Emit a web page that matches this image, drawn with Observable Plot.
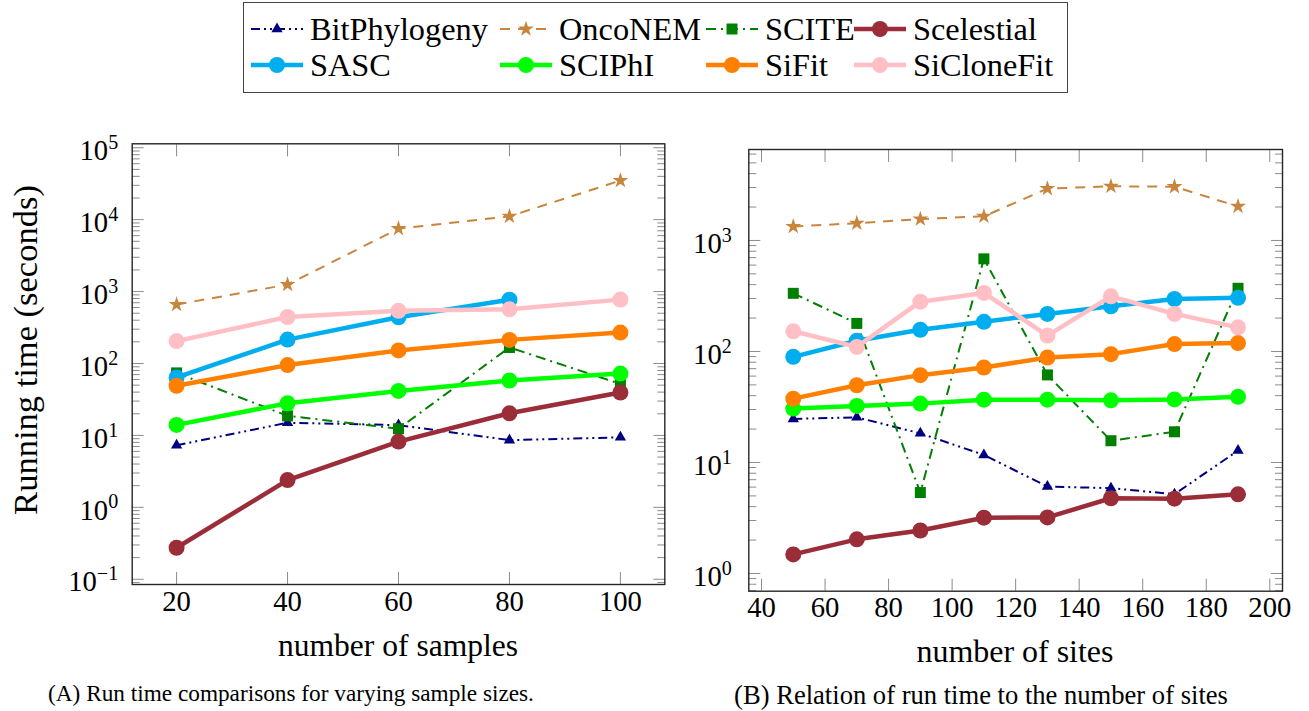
<!DOCTYPE html>
<html><head><meta charset="utf-8">
<script src="https://cdn.jsdelivr.net/npm/d3@7"></script>
<script src="https://cdn.jsdelivr.net/npm/@observablehq/plot@0.6"></script>
<style>
html,body{margin:0;padding:0;background:#fff;}
#stage{position:relative;width:1309px;height:711px;overflow:hidden;color:#000;font-family:"Liberation Serif","DejaVu Serif",serif;}
.abs{position:absolute;white-space:nowrap;line-height:1;}
#legend{position:absolute;left:243px;top:2px;width:823px;height:89px;border:1.4px solid #444;box-sizing:content-box;}
.lg{position:absolute;display:flex;align-items:center;white-space:nowrap;line-height:1;}
.lg svg{margin-right:7px;overflow:visible;flex:none;}
.cap{transform:translateX(-50%);}
.xl{transform:translateX(-50%);}
.yl{transform:translate(-50%,-50%) rotate(-90deg);}
</style></head><body><div id="stage"><div id="legend"></div></div>
<script>
// ---------- data ----------
const methods = ["BitPhylogeny", "OncoNEM", "SCITE", "Scelestial", "SASC", "SCIPhI", "SiFit", "SiCloneFit"];

// Panel A: running time (s) vs number of samples
const samples = [20, 40, 60, 80, 100];
const bitPhylogenyA = [7.3, 15, 13.9, 8.6, 9.4];
const oncoNEMA = [660, 1250, 7500, 11100, 35000];
const sciteA = [74, 18.7, 12.4, 167, 52];
const scelestialA = [0.274, 2.39, 8.2, 20.3, 39.5];
const sascA = [64, 215, 440, 770, null];
const sciphiA = [14.0, 28, 41.5, 58, 72.5];
const sifitA = [49, 95, 152, 213, 269];
const siCloneFitA = [205, 443, 540, 567, 773];

// Panel B: running time (s) vs number of sites
const sites = [50, 70, 90, 110, 130, 150, 170, 190];
const bitPhylogenyB = [24.7, 25.5, 18.3, 11.7, 6.07, 5.87, 5.18, 12.8];
const oncoNEMB = [1337, 1430, 1560, 1650, 2930, 3075, 3050, 2027];
const sciteB = [334, 179, 5.36, 683, 61.5, 15.7, 18.9, 371];
const scelestialB = [1.486, 2.03, 2.44, 3.18, 3.2, 4.76, 4.72, 5.17];
const sascB = [89.5, 125, 157, 185, 218, 255, 297, 304];
const sciphiB = [30.6, 32.3, 33.9, 36.8, 36.8, 36.3, 37, 39];
const sifitB = [37.6, 49.6, 61.2, 71.7, 88.3, 94.6, 116.6, 119];
const siCloneFitB = [152, 110, 281, 337, 139, 314, 218, 165];

// tick values
const samplesTicks = [20, 40, 60, 80, 100];
const sitesTicks = [40, 60, 80, 100, 120, 140, 160, 180, 200];
const yTicksA = [1e-1, 1e0, 1e1, 1e2, 1e3, 1e4, 1e5];
const yTicksB = [1e0, 1e1, 1e2, 1e3];

// texts
const xLabelA = "number of samples";
const xLabelB = "number of sites";
const yLabelA = "Running time (seconds)";
const captionA = "(A) Run time comparisons for varying sample sizes.";
const captionB = "(B) Relation of run time to the number of sites";

// ---------- styles ----------
const FONT = '"Liberation Serif", "DejaVu Serif", serif';
const colors = ["#00007f", "#c7853d", "#007f00", "#9b2d38", "#00aeef", "#00ff00", "#ff8000", "#ffbfc4"];
const dashes = ["9,4,2,4,2,4", "10,8", "10,5,2,5", null, null, null, null, null];
const symbols = ["triangle", "star", "square", "circle", "circle", "circle", "circle", "circle"];
const widths = [2, 2, 2, 4.5, 4.5, 4.5, 4.5, 4.5];
const radii = [4.2, 5, 6.2, 8, 8, 8, 8, 8];

const stage = document.getElementById("stage");
function measure(text) {
  const s = document.createElement("span");
  s.style.cssText = `position:absolute;visibility:hidden;white-space:nowrap;font-size:100px;font-family:${FONT}`;
  s.textContent = text;
  stage.appendChild(s);
  const w = s.getBoundingClientRect().width;
  s.remove();
  return w;
}
// font size that makes `text` about `target` px wide
function fitSize(text, target) { return 100 * target / measure(text); }
const tickFont = fitSize("100", 43);
const supFont = tickFont * 0.7;

function rows(xs, series) {
  return series.flatMap((vals, i) => vals.map((v, j) => ({method: methods[i], x: xs[j], y: v})).filter(d => d.y != null));
}
const dataA = rows(samples, [bitPhylogenyA, oncoNEMA, sciteA, scelestialA, sascA, sciphiA, sifitA, siCloneFitA]);
const dataB = rows(sites, [bitPhylogenyB, oncoNEMB, sciteB, scelestialB, sascB, sciphiB, sifitB, siCloneFitB]);

// pgfplots-like 10% enlargement of limits
function enlargeLin(vals) { const [a, b] = d3.extent(vals); const e = (b - a) * 0.1; return [a - e, b + e]; }
function enlargeLog(vals) { const [a, b] = d3.extent(vals).map(Math.log10); const e = (b - a) * 0.1; return [10 ** (a - e), 10 ** (b + e)]; }
function minorTicks([lo, hi]) {
  const out = [];
  for (let k = Math.floor(Math.log10(lo)) - 1; k <= Math.ceil(Math.log10(hi)); k++)
    for (let m = 2; m <= 9; m++) { const v = m * 10 ** k; if (v >= lo && v <= hi) out.push(v); }
  return out;
}

function seriesMarks(data) {
  return methods.flatMap((m, i) => {
    const d = data.filter(r => r.method === m);
    const lineOpts = {x: "x", y: "y", stroke: colors[i], strokeWidth: widths[i], strokeLinejoin: "round", strokeLinecap: dashes[i] ? "butt" : "round"};
    if (dashes[i]) lineOpts.strokeDasharray = dashes[i];
    return [
      Plot.line(d, lineOpts),
      Plot.dot(d, {x: "x", y: "y", symbol: symbols[i], r: radii[i], fill: colors[i], stroke: "none"})
    ];
  });
}

const tickStroke = "#8c8c8c";
function chart({data, xTicks, yTicks, width, margins, xPad, yPad}) {
  const xDomain = enlargeLin(data.map(d => d.x));
  const yDomain = enlargeLog(data.map(d => d.y));
  const minors = minorTicks(yDomain);
  const marks = [
    Plot.axisX({ticks: xTicks, anchor: "bottom", tickSize: -12, tickFormat: () => "", stroke: tickStroke, label: null}),
    Plot.axisX({ticks: xTicks, anchor: "top", tickSize: -12, tickFormat: () => "", stroke: tickStroke, label: null}),
    Plot.axisY({ticks: yTicks, anchor: "left", tickSize: -12, tickFormat: () => "", stroke: tickStroke, label: null}),
    Plot.axisY({ticks: yTicks, anchor: "right", tickSize: -12, tickFormat: () => "", stroke: tickStroke, label: null}),
    Plot.axisY({ticks: minors, anchor: "left", tickSize: -8, tickFormat: () => "", stroke: tickStroke, label: null}),
    Plot.axisY({ticks: minors, anchor: "right", tickSize: -8, tickFormat: () => "", stroke: tickStroke, label: null}),
    Plot.axisX({ticks: xTicks, anchor: "bottom", tickSize: 0, tickPadding: xPad, fontSize: tickFont, tickFormat: d3.format("d"), label: null}),
    Plot.axisY({ticks: yTicks, anchor: "left", tickSize: 0, tickPadding: yPad, fontSize: tickFont, dy: 3,
      tickFormat: d => "10^" + Math.round(Math.log10(d)), label: null}),
    ...seriesMarks(data),
    Plot.frame({stroke: "#262626", strokeWidth: 1.4})
  ];
  const svg = Plot.plot({
    width, height: 711,
    marginLeft: margins[0], marginRight: margins[1], marginTop: margins[2], marginBottom: margins[3],
    x: {domain: xDomain},
    y: {type: "log", domain: yDomain},
    style: {fontFamily: FONT, fontSize: tickFont + "px", background: "transparent", overflow: "visible", color: "#000"},
    marks
  });
  // render "10^k" tick labels with a real superscript
  svg.querySelectorAll("text").forEach(t => {
    const s = t.textContent;
    if (!/^10\^-?\d+$/.test(s)) return;
    const [base, exp] = s.split("^");
    t.textContent = "";
    const ns = "http://www.w3.org/2000/svg";
    const a = document.createElementNS(ns, "tspan"); a.textContent = base;
    const b = document.createElementNS(ns, "tspan"); b.textContent = exp.replace("-", "\u2212");
    b.setAttribute("dy", -supFont * 0.55); b.setAttribute("font-size", supFont);
    t.append(a, b);
  });
  return svg;
}

function place(el, left, top) { el.style.position = "absolute"; el.style.left = left + "px"; el.style.top = top + "px"; stage.appendChild(el); }
function textDiv(cls, text, target) {
  const d = document.createElement("div"); d.className = "abs " + cls; d.textContent = text;
  d.style.fontSize = fitSize(text, target) + "px";
  return d;
}

const svgA = chart({data: dataA, xTicks: samplesTicks, yTicks: yTicksA, width: 670, margins: [131.7, 5.7, 143.3, 127], xPad: 6, yPad: 14});
place(svgA, 0, 0);
const svgB = chart({data: dataB, xTicks: sitesTicks, yTicks: yTicksB, width: 639, margins: [78.3, 27, 149, 120.3], xPad: 5, yPad: 17});
place(svgB, 670, 0);

// axis labels & captions
place(textDiv("xl", xLabelA, 240), 398, 630);
place(textDiv("xl", xLabelB, 197), 1015, 636);
place(textDiv("yl", yLabelA, 330), 25, 350);
place(textDiv("cap", captionA, 486), 291, 682);
place(textDiv("cap", captionB, 494), 981, 682);

// legend
const legend = document.getElementById("legend");
const legendFont = fitSize("BitPhylogeny", 178);
const colX = [7, 256, 462, 610];
const rowY = [10, 46];
const symMap = {triangle: d3.symbolTriangle, star: d3.symbolStar, square: d3.symbolSquare, circle: d3.symbolCircle};
methods.forEach((m, i) => {
  const item = document.createElement("div");
  item.className = "lg";
  item.style.left = colX[i % 4] + "px";
  item.style.top = rowY[Math.floor(i / 4)] + "px";
  item.style.fontSize = legendFont + "px";
  const sw = d3.create("svg").attr("width", 52).attr("height", 24);
  sw.append("line").attr("x1", 0).attr("x2", 52).attr("y1", 12).attr("y2", 12)
    .attr("stroke", colors[i]).attr("stroke-width", widths[i]).attr("stroke-dasharray", dashes[i]);
  sw.append("path").attr("transform", "translate(26,12)")
    .attr("d", d3.symbol(symMap[symbols[i]], Math.PI * radii[i] * radii[i])())
    .attr("fill", colors[i]);
  item.appendChild(sw.node());
  const label = document.createElement("span"); label.textContent = m;
  item.appendChild(label);
  legend.appendChild(item);
});
</script></body></html>
